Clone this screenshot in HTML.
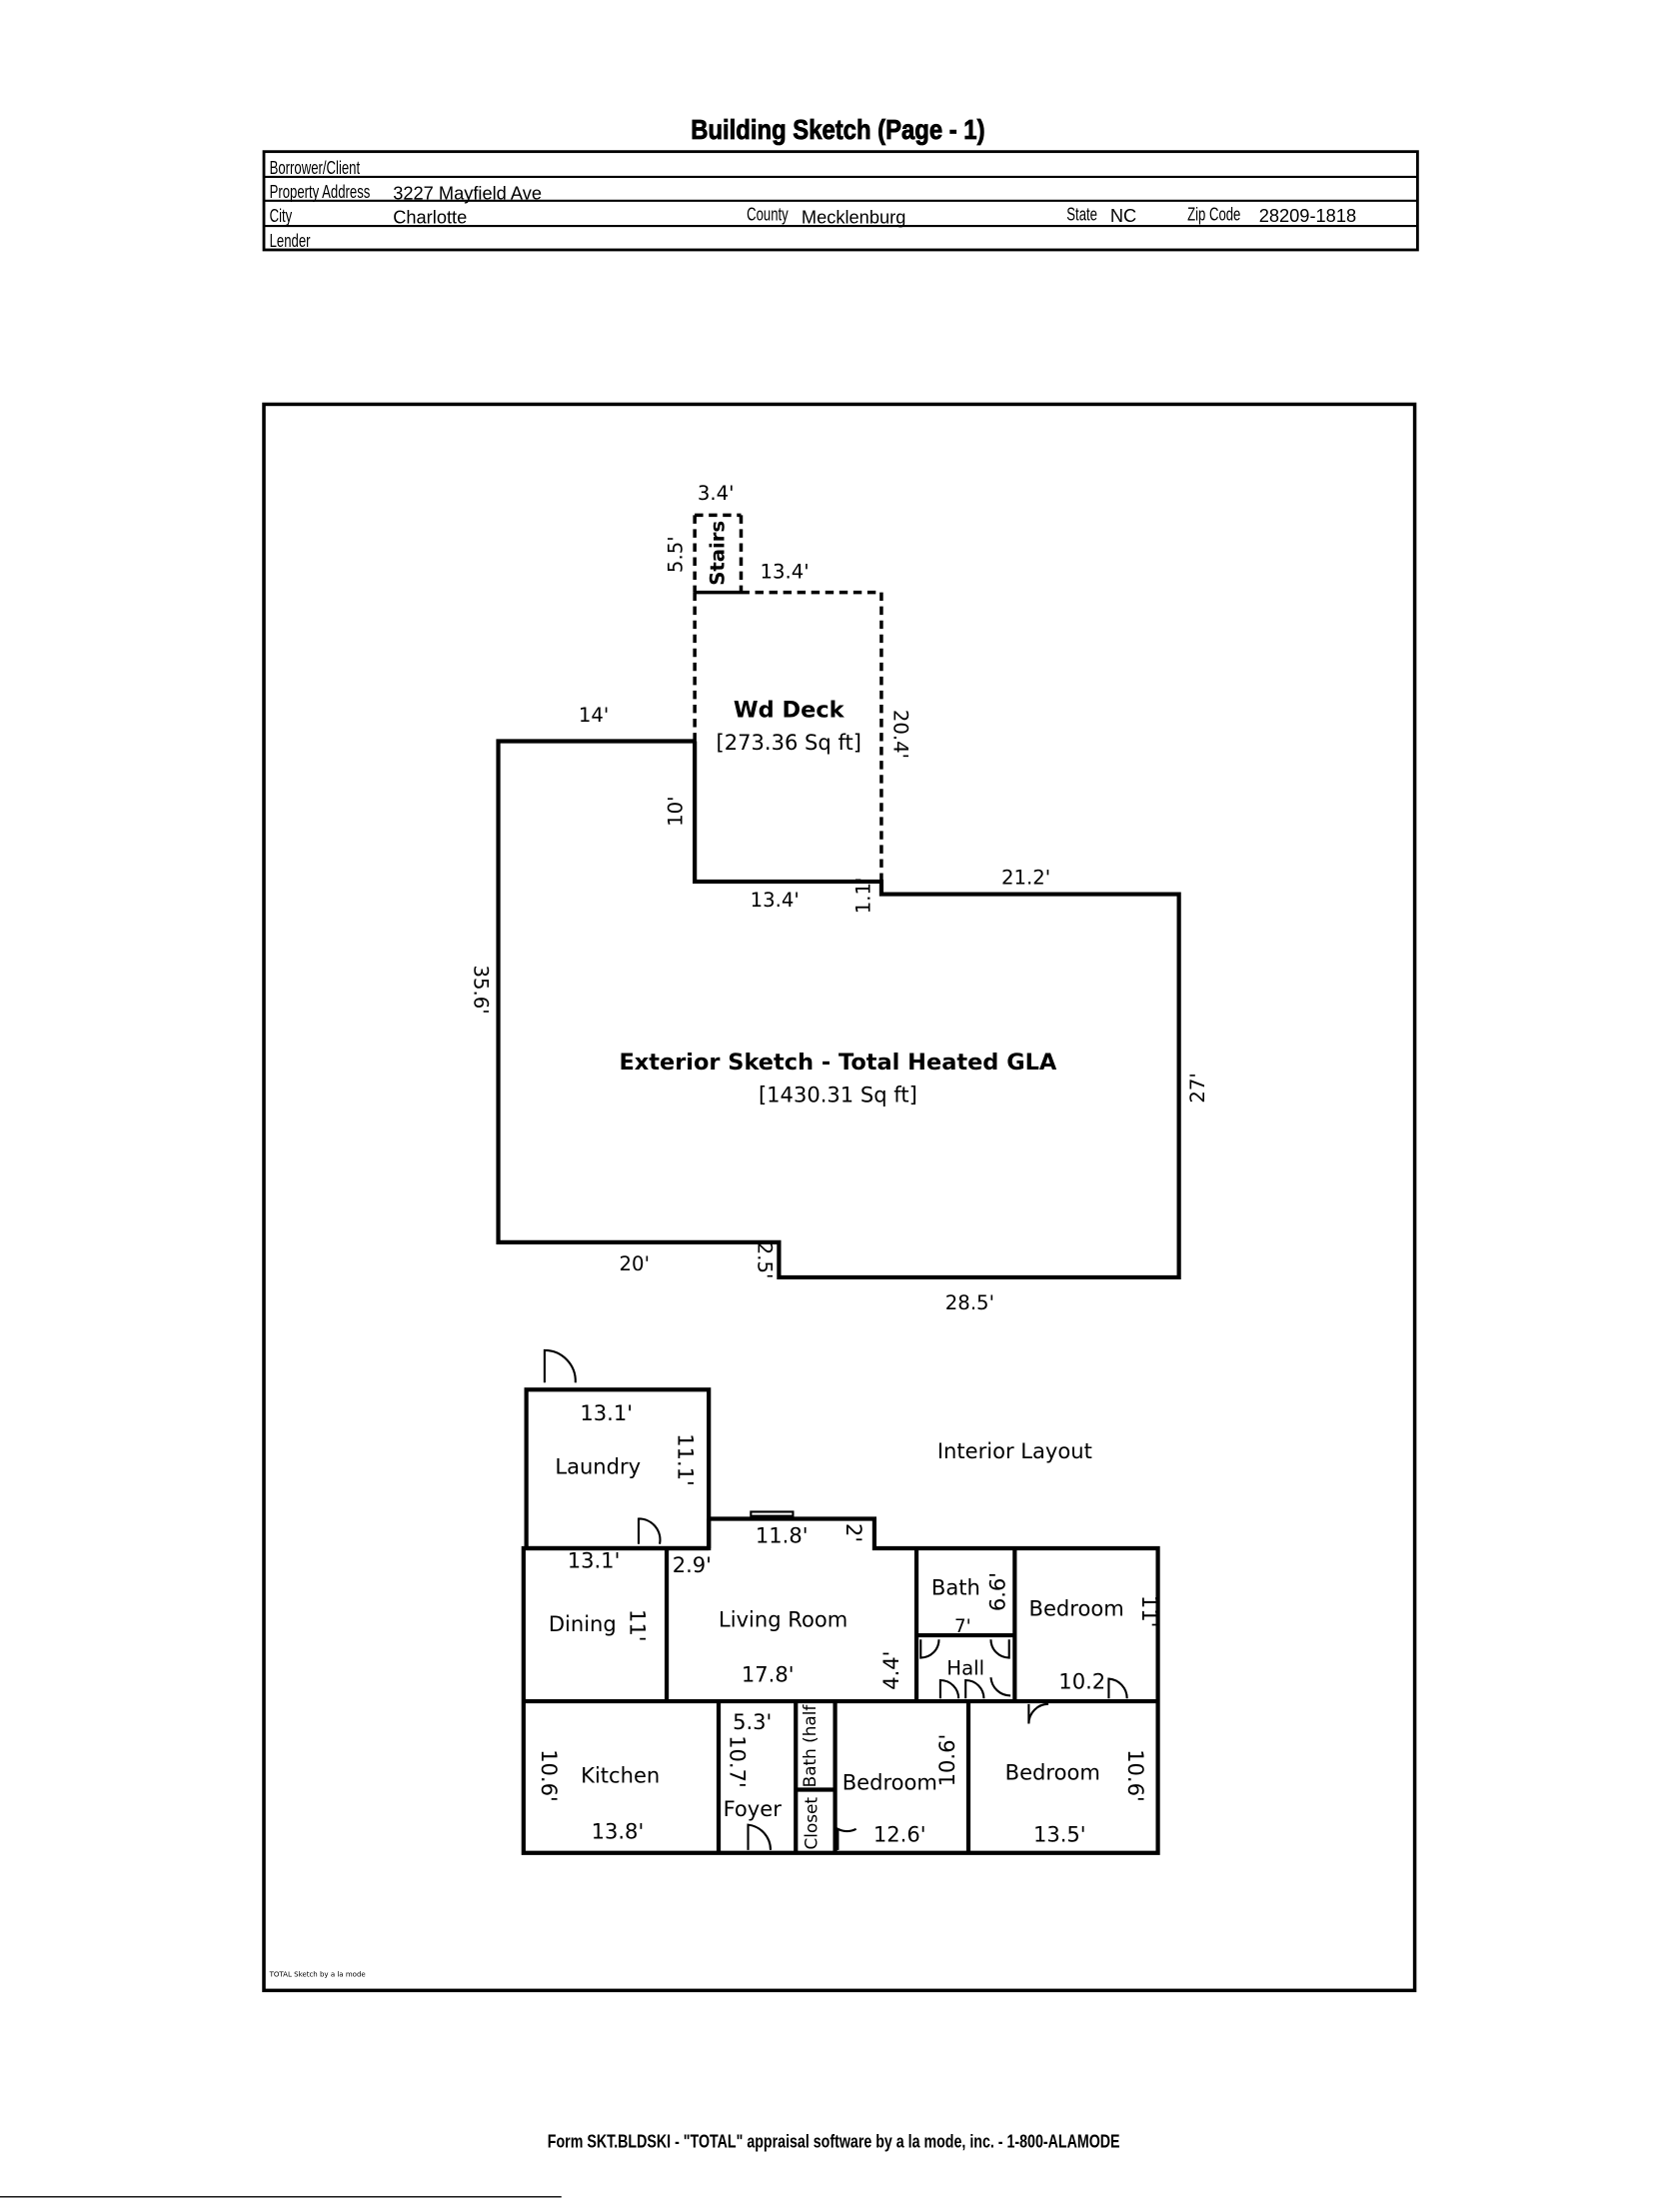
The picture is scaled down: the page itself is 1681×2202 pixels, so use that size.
<!DOCTYPE html>
<html><head><meta charset="utf-8"><style>
html,body{margin:0;padding:0;background:#fff;}
svg{display:block;}
text{font-family:"DejaVu Sans","Liberation Sans",sans-serif;fill:#000;}
.h{font-family:"Liberation Sans",sans-serif;}
</style></head><body>
<svg width="1681" height="2202" viewBox="0 0 1197 1568" xmlns="http://www.w3.org/2000/svg">
<rect width="1197" height="1568" fill="#fff"/>
<text x="597" y="99" text-anchor="middle" class="h" font-size="20" font-weight="bold" stroke="#000" stroke-width="0.6" transform="translate(597 0) scale(0.85 1) translate(-597 0)">Building Sketch (Page - 1)</text>
<g stroke="#000" fill="none">
<rect x="188" y="108" width="822" height="70" stroke-width="2"/>
<line x1="188" y1="126" x2="1010" y2="126" stroke-width="1.5"/>
<line x1="188" y1="143" x2="1010" y2="143" stroke-width="1.5"/>
<line x1="188" y1="161" x2="1010" y2="161" stroke-width="1.5"/>
</g>
<g font-size="13">
<text x="192" y="124" class="h" transform="translate(192 0) scale(0.72 1) translate(-192 0)">Borrower/Client</text>
<text x="192" y="141" class="h" transform="translate(192 0) scale(0.72 1) translate(-192 0)">Property Address</text>
<text x="280" y="142" class="h" font-size="13">3227 Mayfield Ave</text>
<text x="192" y="158" class="h" transform="translate(192 0) scale(0.72 1) translate(-192 0)">City</text>
<text x="280" y="159" class="h" font-size="13">Charlotte</text>
<text x="532" y="157" class="h" transform="translate(532 0) scale(0.72 1) translate(-532 0)">County</text>
<text x="571" y="159" class="h" font-size="13">Mecklenburg</text>
<text x="760" y="157" class="h" transform="translate(760 0) scale(0.72 1) translate(-760 0)">State</text>
<text x="791" y="158" class="h" font-size="13">NC</text>
<text x="846" y="157" class="h" transform="translate(846 0) scale(0.72 1) translate(-846 0)">Zip Code</text>
<text x="897" y="158" class="h" font-size="13">28209-1818</text>
<text x="192" y="176" class="h" transform="translate(192 0) scale(0.72 1) translate(-192 0)">Lender</text>
</g>
<rect x="188" y="288" width="820" height="1130" fill="none" stroke="#000" stroke-width="2.5"/>
<g stroke="#000" stroke-width="3" fill="none">
<polyline points="495,528 355,528 355,885 555,885 555,910 840,910 840,637 628,637 628,628 495,628 495,528"/>
</g>
<g stroke="#000" stroke-width="2.5" fill="none" stroke-dasharray="6,4">
<line x1="495" y1="422" x2="495" y2="528"/>
<line x1="528" y1="422" x2="628" y2="422"/>
<line x1="628" y1="422" x2="628" y2="628"/>
<line x1="495" y1="367" x2="528" y2="367"/>
<line x1="495" y1="367" x2="495" y2="422"/>
<line x1="528" y1="367" x2="528" y2="422"/>
</g>
<line x1="495" y1="422" x2="528" y2="422" stroke="#000" stroke-width="2.5"/>
<g font-size="14">
<text x="510" y="356" text-anchor="middle">3.4'</text>
<text x="486" y="395" text-anchor="middle" transform="rotate(-90 486 395)">5.5'</text>
<text x="516" y="394" text-anchor="middle" font-weight="bold" transform="rotate(-90 516 394)">Stairs</text>
<text x="559" y="412" text-anchor="middle">13.4'</text>
<text x="562" y="511" text-anchor="middle" font-size="16" font-weight="bold">Wd Deck</text>
<text x="562" y="534" text-anchor="middle" font-size="15">[273.36 Sq ft]</text>
<text x="637" y="523" text-anchor="middle" transform="rotate(90 637 523)">20.4'</text>
<text x="423" y="514" text-anchor="middle">14'</text>
<text x="486" y="578" text-anchor="middle" transform="rotate(-90 486 578)">10'</text>
<text x="552" y="646" text-anchor="middle">13.4'</text>
<text x="620" y="638" text-anchor="middle" transform="rotate(-90 620 638)">1.1'</text>
<text x="731" y="630" text-anchor="middle">21.2'</text>
<text x="338" y="705" text-anchor="middle" transform="rotate(90 338 705)">35.6'</text>
<text x="597" y="762" text-anchor="middle" font-size="16" font-weight="bold">Exterior Sketch - Total Heated GLA</text>
<text x="597" y="785" text-anchor="middle" font-size="15">[1430.31 Sq ft]</text>
<text x="858" y="775" text-anchor="middle" transform="rotate(-90 858 775)">27'</text>
<text x="452" y="905" text-anchor="middle">20'</text>
<text x="540" y="898" text-anchor="middle" transform="rotate(90 540 898)">2.5'</text>
<text x="691" y="933" text-anchor="middle">28.5'</text>
</g>
<g stroke="#000" stroke-width="3" fill="none">
<rect x="375" y="990" width="130" height="113"/>
<polyline points="505,1082 623,1082 623,1103 825,1103 825,1320 373,1320 373,1103 505,1103"/>
<line x1="505" y1="1082" x2="505" y2="1103"/>
<line x1="475" y1="1103" x2="475" y2="1212"/>
<line x1="653" y1="1103" x2="653" y2="1212"/>
<line x1="723" y1="1103" x2="723" y2="1212"/>
<line x1="653" y1="1165" x2="723" y2="1165"/>
<line x1="373" y1="1212" x2="825" y2="1212"/>
<line x1="512" y1="1212" x2="512" y2="1320"/>
<line x1="567" y1="1212" x2="567" y2="1320"/>
<line x1="595" y1="1212" x2="595" y2="1320"/>
<line x1="567" y1="1275" x2="595" y2="1275"/>
<line x1="690" y1="1212" x2="690" y2="1320"/>
</g>
<g stroke="#000" stroke-width="1.5" fill="none">
<rect x="535" y="1077" width="30" height="3"/>
<path d="M388,985 V962 A22,22 0 0 1 410,985"/>
<path d="M455,1100 V1082 A15,15 0 0 1 470,1100"/>
<path d="M656,1168 V1181 A13,13 0 0 0 669,1168"/>
<path d="M719,1168 V1181 A13,13 0 0 1 706,1168"/>
<path d="M670,1210 V1197 A13,13 0 0 1 683,1210"/>
<path d="M688,1210 V1197 A13,13 0 0 1 701,1210"/>
<path d="M720,1208 A14,14 0 0 1 706,1195"/>
<path d="M790,1210 V1196 A14,14 0 0 1 803,1210"/>
<path d="M733,1214 V1228 A14,14 0 0 1 747,1214"/>
<path d="M533,1318 V1300 A18,18 0 0 1 549,1318"/>
<path d="M597,1318 V1303 A14,14 0 0 0 610,1303"/>
</g>
<g font-size="15">
<text x="432" y="1012" text-anchor="middle">13.1'</text>
<text x="426" y="1050" text-anchor="middle">Laundry</text>
<text x="483" y="1040" text-anchor="middle" transform="rotate(90 483 1040)">11.1'</text>
<text x="723" y="1039" text-anchor="middle">Interior Layout</text>
<text x="557" y="1099" text-anchor="middle">11.8'</text>
<text x="603" y="1092" text-anchor="middle" transform="rotate(90 603 1092)">2'</text>
<text x="423" y="1117" text-anchor="middle">13.1'</text>
<text x="493" y="1120" text-anchor="middle">2.9'</text>
<text x="415" y="1162" text-anchor="middle">Dining</text>
<text x="449" y="1158" text-anchor="middle" transform="rotate(90 449 1158)">11'</text>
<text x="558" y="1159" text-anchor="middle">Living Room</text>
<text x="547" y="1198" text-anchor="middle">17.8'</text>
<text x="640" y="1190" text-anchor="middle" transform="rotate(-90 640 1190)">4.4'</text>
<text x="681" y="1136" text-anchor="middle">Bath</text>
<text x="716" y="1134" text-anchor="middle" transform="rotate(-90 716 1134)">6.6'</text>
<text x="686" y="1163" text-anchor="middle" font-size="13">7'</text>
<text x="688" y="1193" text-anchor="middle" font-size="14">Hall</text>
<text x="767" y="1151" text-anchor="middle">Bedroom</text>
<text x="814" y="1148" text-anchor="middle" transform="rotate(90 814 1148)">11'</text>
<text x="771" y="1203" text-anchor="middle">10.2</text>
<text x="386" y="1265" text-anchor="middle" transform="rotate(90 386 1265)">10.6'</text>
<text x="442" y="1270" text-anchor="middle">Kitchen</text>
<text x="440" y="1310" text-anchor="middle">13.8'</text>
<text x="536" y="1232" text-anchor="middle">5.3'</text>
<text x="520" y="1255" text-anchor="middle" transform="rotate(90 520 1255)">10.7'</text>
<text x="536" y="1294" text-anchor="middle">Foyer</text>
<text x="581" y="1244" text-anchor="middle" font-size="12" transform="rotate(-90 581 1244)">Bath (half</text>
<text x="582" y="1299" text-anchor="middle" font-size="12" transform="rotate(-90 582 1299)">Closet</text>
<text x="634" y="1275" text-anchor="middle">Bedroom</text>
<text x="680" y="1254" text-anchor="middle" transform="rotate(-90 680 1254)">10.6'</text>
<text x="641" y="1312" text-anchor="middle">12.6'</text>
<text x="750" y="1268" text-anchor="middle">Bedroom</text>
<text x="804" y="1265" text-anchor="middle" transform="rotate(90 804 1265)">10.6'</text>
<text x="755" y="1312" text-anchor="middle">13.5'</text>
</g>
<text x="192" y="1408" font-size="5">TOTAL Sketch by a la mode</text>
<text x="594" y="1530" text-anchor="middle" class="h" font-size="13" font-weight="bold" transform="translate(594 0) scale(0.78 1) translate(-594 0)">Form SKT.BLDSKI - "TOTAL" appraisal software by a la mode, inc. - 1-800-ALAMODE</text>
<line x1="0" y1="1565" x2="400" y2="1565" stroke="#000" stroke-width="1"/>
</svg>
</body></html>
